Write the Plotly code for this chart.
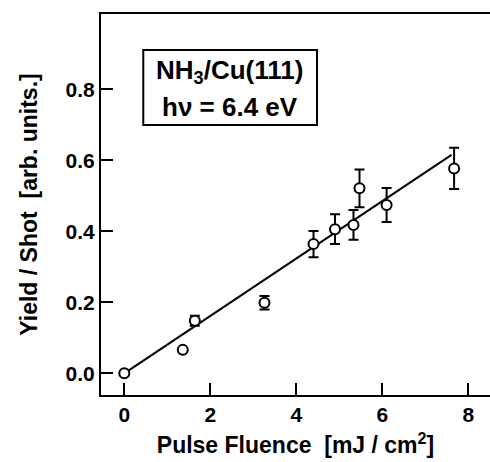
import plotly.graph_objects as go

# Data
fluence = [0.0, 1.36, 1.64, 3.26, 4.40, 4.90, 5.33, 5.47, 6.10, 7.67]
yield_shot = [0.0, 0.066, 0.148, 0.199, 0.364, 0.406, 0.418, 0.521, 0.474, 0.577]
yield_err = [0.0, 0.0, 0.014, 0.019, 0.037, 0.042, 0.042, 0.053, 0.048, 0.058]
fit_x = [0.0, 7.61]
fit_y = [0.0, 0.615]

x_ticks = [0, 2, 4, 6, 8]
y_ticks = [0.0, 0.2, 0.4, 0.6, 0.8]
y_tick_labels = ["0.0", "0.2", "0.4", "0.6", "0.8"]

FONT = "Liberation Sans"

fig = go.Figure()
fig.add_trace(go.Scatter(
    x=fit_x, y=fit_y, mode="lines",
    line=dict(color="black", width=2), showlegend=False, hoverinfo="skip"))
fig.add_trace(go.Scatter(
    x=fluence, y=yield_shot, mode="markers",
    marker=dict(symbol="circle", size=10, color="white",
                line=dict(color="black", width=2)),
    error_y=dict(type="data", array=yield_err, visible=True,
                 color="black", thickness=2, width=5),
    showlegend=False))

fig.update_layout(
    width=490, height=462,
    margin=dict(l=101, r=0, t=14, b=67),
    paper_bgcolor="white", plot_bgcolor="white",
    font=dict(family=FONT, color="black", size=20, weight="bold"),
    xaxis=dict(
        range=[-0.542, 8.505], tickvals=x_ticks, ticks="inside", ticklen=12,
        tickwidth=2, tickcolor="black", showline=True, linecolor="black",
        linewidth=2, mirror=True, showgrid=False, zeroline=False,
        tickfont=dict(family=FONT, size=21, weight="bold"),
        title=dict(text="Pulse Fluence  [mJ / cm<sup>2</sup>]",
                   font=dict(family=FONT, size=23, weight="bold"), standoff=12),
    ),
    yaxis=dict(
        range=[-0.0611, 1.012], tickvals=y_ticks, ticktext=y_tick_labels,
        ticks="inside", ticklen=12, tickwidth=2, tickcolor="black",
        showline=True, linecolor="black", linewidth=2, mirror=False,
        showgrid=False, zeroline=False,
        tickfont=dict(family=FONT, size=21, weight="bold"),
        title=dict(text="Yield / Shot  [arb. units.]",
                   font=dict(family=FONT, size=23, weight="bold"), standoff=22),
    ),
)

fig.add_shape(type="rect", xref="paper", yref="paper",
              x0=0.1087, x1=0.5553, y0=0.7087, y1=0.9055,
              line=dict(color="black", width=2), fillcolor="white")
fig.add_annotation(xref="paper", yref="paper", x=0.3316, y=0.8005,
                   text="NH<sub>3</sub>/Cu(111)", showarrow=False,
                   xanchor="center", yanchor="bottom",
                   font=dict(family=FONT, size=26, weight="bold"))
fig.add_annotation(xref="paper", yref="paper", x=0.3316, y=0.7995,
                   text="hν = 6.4 eV", showarrow=False,
                   xanchor="center", yanchor="top",
                   font=dict(family=FONT, size=26, weight="bold"))

fig.write_html("out.html")
